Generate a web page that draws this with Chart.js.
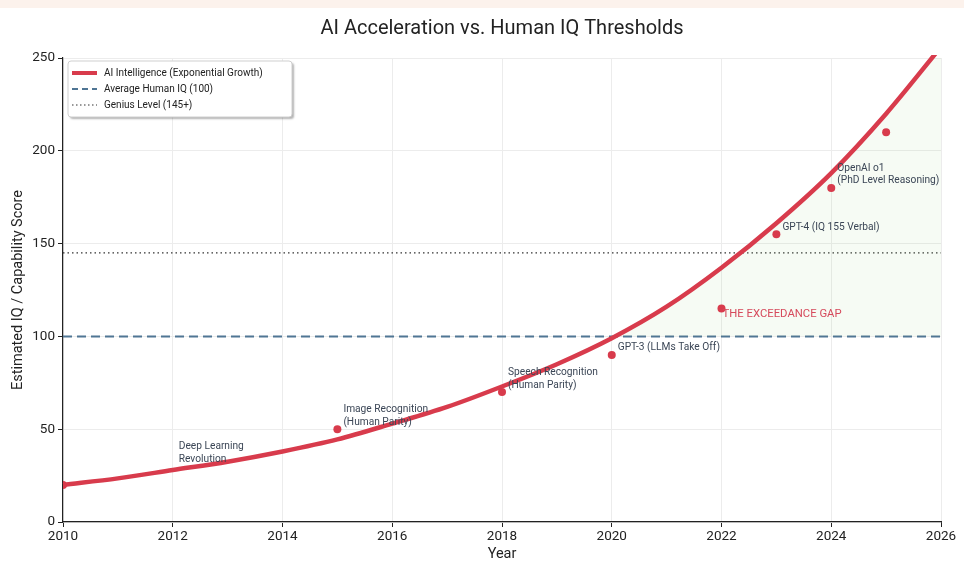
<!DOCTYPE html>
<html>
<head>
<meta charset="utf-8">
<script src="https://cdn.jsdelivr.net/npm/chart.js@4.4.1/dist/chart.umd.min.js"></script>
<style>
  html, body { margin: 0; padding: 0; }
  body { background: linear-gradient(#fcf2ec 0, #fcf2ec 8px, #ffffff 8px); }
  #wrap { position: relative; width: 964px; height: 566px; }
</style>
</head>
<body>
<div id="wrap"><canvas id="iq-chart"></canvas></div>
<script>
// AI curve
const curveYears = [2010, 2011, 2012, 2013, 2014, 2015, 2016, 2017, 2018, 2019, 2020, 2021, 2022, 2023, 2024, 2025, 2026];
const curveValues = [20, 23.5, 28, 32.5, 38, 44.5, 53, 62, 73, 85, 99, 116, 137, 161, 188, 220, 256];

// milestone dots
const dotYears = [2010, 2015, 2018, 2020, 2022, 2023, 2024, 2025];
const dotValues = [20, 50, 70, 90, 115, 155, 180, 210];

// text notes
const noteYears = [2012, 2015, 2018, 2020, 2023, 2024];
const noteValues = [30, 50, 70, 90, 155, 180];
const noteTexts = [
  ['Deep Learning', 'Revolution'],
  ['Image Recognition', '(Human Parity)'],
  ['Speech Recognition', '(Human Parity)'],
  ['GPT-3 (LLMs Take Off)'],
  ['GPT-4 (IQ 155 Verbal)'],
  ['OpenAI o1', '(PhD Level Reasoning)']
];
const gapYear = 2022;
const gapValue = 115;
const gapText = 'THE EXCEEDANCE GAP';

const averageIQ = 100;
const geniusIQ = 145;
const xRange = [2010, 2026];
const yRange = [0, 250];

const legendLabels = ['AI Intelligence (Exponential Growth)', 'Average Human IQ (100)', 'Genius Level (145+)'];

const RED = '#d83b4c';
const BLUE = '#4f7594';
const DARK = '#333333';
const FONT = 'Roboto, "Open Sans", sans-serif';

// notes next to the points
const notesPlugin = {
  id: 'notes',
  afterDatasetsDraw(chart) {
    const { ctx, scales: { x, y } } = chart;
    ctx.save();
    ctx.font = '10.2px ' + FONT;
    ctx.fillStyle = '#3b4656';
    ctx.textAlign = 'left';
    ctx.textBaseline = 'bottom';
    noteYears.forEach((yr, i) => {
      const px = x.getPixelForValue(yr) + 6;
      const py = y.getPixelForValue(noteValues[i]) - 2;
      const lines = noteTexts[i];
      lines.forEach((line, j) => {
        ctx.fillText(line, px, py - (lines.length - 1 - j) * 12.5);
      });
    });
    ctx.font = '11.3px ' + FONT;
    ctx.fillStyle = '#d64a5c';
    ctx.textBaseline = 'middle';
    ctx.fillText(gapText, x.getPixelForValue(gapYear) + 1, y.getPixelForValue(gapValue) + 6);
    ctx.restore();
  }
};

// legend box inside the plot
const legendPlugin = {
  id: 'boxLegend',
  afterDraw(chart) {
    const { ctx, chartArea } = chart;
    const bx = chartArea.left + 5, by = chartArea.top + 3, bw = 224, bh = 56;
    ctx.save();
    ctx.shadowColor = 'rgba(0,0,0,0.3)';
    ctx.shadowOffsetX = 2;
    ctx.shadowOffsetY = 2;
    ctx.shadowBlur = 2;
    ctx.fillStyle = '#ffffff';
    ctx.beginPath();
    ctx.roundRect(bx, by, bw, bh, 3);
    ctx.fill();
    ctx.shadowColor = 'transparent';
    ctx.strokeStyle = '#cfcfcf';
    ctx.lineWidth = 1;
    ctx.stroke();

    const styles = [
      { color: RED, width: 4, dash: [] },
      { color: BLUE, width: 2, dash: [6, 4] },
      { color: DARK, width: 1.2, dash: [1.5, 2.5] }
    ];
    ctx.font = '10px ' + FONT;
    ctx.textBaseline = 'middle';
    legendLabels.forEach((label, i) => {
      const ly = by + 12 + i * 16;
      const s = styles[i];
      ctx.beginPath();
      ctx.setLineDash(s.dash);
      ctx.strokeStyle = s.color;
      ctx.lineWidth = s.width;
      ctx.moveTo(bx + 4, ly);
      ctx.lineTo(bx + 29, ly);
      ctx.stroke();
      ctx.setLineDash([]);
      ctx.fillStyle = '#222';
      ctx.fillText(label, bx + 36, ly);
    });
    ctx.restore();
  }
};

const ctx = document.getElementById('iq-chart').getContext('2d');

new Chart(ctx, {
  type: 'line',
  data: {
    datasets: [
      {
        label: legendLabels[0],
        data: curveYears.map((yr, i) => ({ x: yr, y: curveValues[i] })),
        borderColor: RED,
        borderWidth: 4.5,
        pointRadius: 0,
        cubicInterpolationMode: 'monotone',
        fill: { target: { value: averageIQ }, above: 'rgba(150, 215, 130, 0.09)', below: 'transparent' },
        clip: 3,
        order: 2
      },
      {
        label: legendLabels[1],
        data: xRange.map(yr => ({ x: yr, y: averageIQ })),
        borderColor: BLUE,
        borderWidth: 2,
        borderDash: [9, 5],
        pointRadius: 0,
        fill: false,
        order: 3
      },
      {
        label: legendLabels[2],
        data: xRange.map(yr => ({ x: yr, y: geniusIQ })),
        borderColor: DARK,
        borderWidth: 1.4,
        borderDash: [1.5, 3],
        pointRadius: 0,
        fill: false,
        order: 4
      },
      {
        label: 'Milestones',
        data: dotYears.map((yr, i) => ({ x: yr, y: dotValues[i] })),
        showLine: false,
        pointRadius: 4,
        pointBackgroundColor: RED,
        pointBorderWidth: 0,
        order: 1
      }
    ]
  },
  options: {
    responsive: true,
    maintainAspectRatio: false,
    animation: false,
    layout: { padding: { left: 0, right: 23, top: 0, bottom: 0 } },
    plugins: {
      legend: { display: false },
      tooltip: { enabled: false },
      title: {
        display: true,
        fullSize: false,
        text: 'AI Acceleration vs. Human IQ Thresholds',
        color: '#222',
        font: { family: FONT, size: 20, weight: 'normal' },
        padding: { top: 17, bottom: 17 }
      }
    },
    scales: {
      x: {
        type: 'linear',
        min: xRange[0],
        max: xRange[1],
        afterFit: (scale) => { scale.height = 44; },
        ticks: {
          stepSize: 2,
          callback: (v) => String(v),
          color: '#222',
          font: { family: FONT, size: 13.5 },
          padding: 2,
          maxRotation: 0
        },
        grid: { color: '#ececec', tickColor: '#222', tickLength: 5 },
        border: { display: true, color: '#222', width: 1.2 },
        title: {
          display: true,
          text: 'Year',
          color: '#222',
          font: { family: FONT, size: 14.5 },
          padding: { top: 2, bottom: 3 }
        }
      },
      y: {
        min: yRange[0],
        max: yRange[1],
        afterFit: (scale) => { scale.width = 63; },
        ticks: {
          stepSize: 50,
          color: '#222',
          font: { family: FONT, size: 13.5 },
          padding: 3
        },
        grid: { color: '#ececec', tickColor: '#222', tickLength: 5 },
        border: { display: true, color: '#222', width: 1.2 },
        title: {
          display: true,
          text: 'Estimated IQ / Capability Score',
          color: '#222',
          font: { family: FONT, size: 14.5 },
          padding: { top: 10, bottom: 0 }
        }
      }
    }
  },
  plugins: [notesPlugin, legendPlugin]
});
</script>
</body>
</html>
